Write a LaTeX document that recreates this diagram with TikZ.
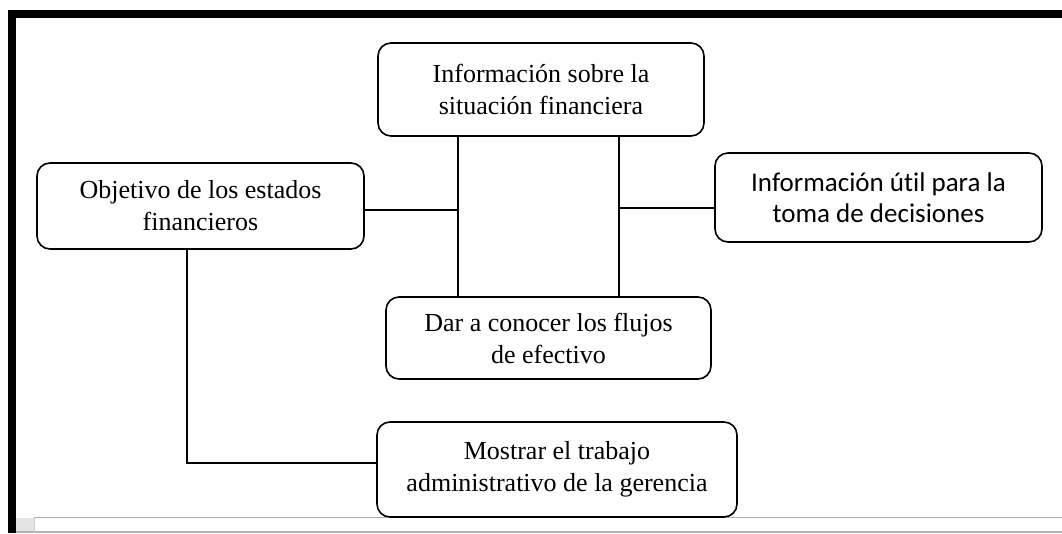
\documentclass[tikz,border=0pt]{standalone}
\usepackage{fontspec}
\setmainfont{Liberation Serif}
\newfontfamily\calibri[Ligatures=NoCommon]{Carlito}
\usepackage{xcolor}
\usetikzlibrary{positioning}

\tikzset{
  caja/.style={draw, rounded corners=13pt, line width=1.6pt, align=center,
    inner sep=0pt, font=\fontsize{26}{32}\selectfont},
  linea/.style={line width=1.6pt}
}

\begin{document}
\begin{tikzpicture}[x=1pt, y=-1pt]
    \useasboundingbox (0,0) rectangle (1062,533);
    
    % Window frame
    \fill[black] (8,10) rectangle (1062,18);
    \fill[black] (8,10) rectangle (16,533);
    \fill[gray!20] (16,518) rectangle (34,533);
    \draw[gray!60, line width=1.2pt] (34,517.5) -- (1062,517.5);
    \draw[gray!60, line width=1.2pt] (16,532) -- (1062,532);
    \draw[gray!40, line width=1pt] (34,517.5) -- (34,533);
    
    % Boxes
    \node[caja, minimum width=326, minimum height=93] (info) at (541,89.5)
      {Información sobre la\\situación financiera};
    \node[caja, minimum width=327, minimum height=86] (objetivo) at (200.5,206)
      {Objetivo de los estados\\financieros};
    \node[caja, minimum width=327, minimum height=89, font=\calibri\fontsize{27}{31}\selectfont] (util) at (878.5,197.5)
      {Información útil para la\\toma de decisiones};
    \node[caja, minimum width=325, minimum height=82] (flujos) at (548.5,338)
      {Dar a conocer los flujos\\de efectivo};
    \node[caja, minimum width=360, minimum height=95] (mostrar) at (557,469.5)
      {Mostrar el trabajo\\administrativo de la gerencia};
    
    % Junction points
    \coordinate (jl) at (458,210);
    \coordinate (jr) at (619,208);
    \coordinate (jb) at (187,463);
    
    % Connectors
    \draw[linea] (jl |- info.south) -- (jl |- flujos.north);
    \draw[linea] (jr |- info.south) -- (jr |- flujos.north);
    \draw[linea] (jl -| objetivo.east) -- (jl);
    \draw[linea] (jr) -- (jr -| util.west);
    \draw[linea] (jb |- objetivo.south) -- (jb) -- (jb -| mostrar.west);
  \end{tikzpicture}
\end{document}
